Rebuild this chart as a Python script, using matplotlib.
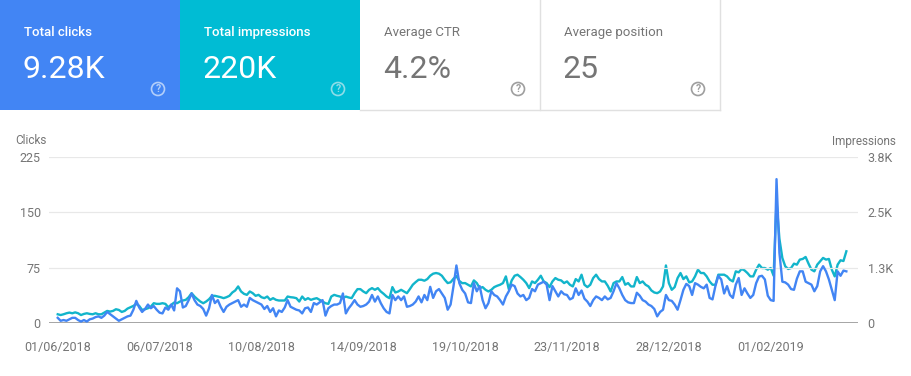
import numpy as np
import matplotlib
matplotlib.use("Agg")
import matplotlib.pyplot as plt
import matplotlib.dates as mdates
from matplotlib.patches import Rectangle, Circle
import datetime as dt

plt.rcParams['font.family'] = ['Roboto', 'DejaVu Sans']

# summary cards
card_labels = ["Total clicks", "Total impressions", "Average CTR", "Average position"]
card_values = ["9.28K", "220K", "4.2%", "25"]

# daily data, 01/06/2018 ...
start_date = dt.date(2018, 6, 1)

clicks = [
    7, 3, 4, 3, 5, 7, 7, 4, 2, 4, 2, 5, 6, 8, 9, 7, 10, 15, 12, 9,
    6, 3, 5, 7, 9, 10, 18, 30, 21, 15, 19, 25, 20, 23, 18, 14, 13, 21, 18, 25,
    17, 47, 43, 21, 23, 31, 40, 31, 25, 23, 19, 10, 20, 38,
    27, 31, 22, 15, 22, 25, 27, 29, 31, 22, 25, 22, 34, 31, 29, 27, 25, 19, 23, 15,
    20, 9, 17, 15, 21, 31, 22, 20, 18, 17, 13, 20, 21, 15, 27, 25, 28, 31, 10, 20,
    23, 25, 25, 27, 40, 13, 20, 25, 31, 25, 22, 23, 25, 29, 38,
    29, 36, 27, 20, 15, 13, 38, 31, 36, 31, 36, 22, 23, 25, 29, 36, 28, 38, 31, 49,
    34, 43, 46, 40, 34, 18, 25, 50, 78, 54, 45, 40, 28, 27, 54, 43, 50, 31, 20, 27,
    43, 38, 36, 31, 25, 36, 43, 52, 50, 40, 36, 38, 31, 34, 46,
    43, 52, 54, 56, 52, 31, 50, 43, 36, 43, 39, 38, 32, 34, 47, 38, 44, 33, 29, 23,
    31, 36, 34, 31, 36, 32, 34, 43, 54, 47, 38, 31, 28, 27, 27, 41, 37, 31, 29, 25,
    23, 19, 9, 15, 18, 38, 31, 30, 25, 18, 31, 45, 53, 50,
    38, 54, 52, 49, 47, 52, 34, 32, 50, 64, 59, 40, 50, 38, 34, 52, 61, 38, 47, 40,
    34, 38, 54, 63, 64, 59, 37, 31, 30, 195, 95, 56, 55, 52, 46, 45, 60, 70, 70, 56,
    54, 52, 43, 50, 70, 77, 70, 59, 45, 31, 70, 64, 71, 70,
]

impressions = [
    197, 180, 197, 220, 235, 220, 240, 220, 180, 205, 220, 205, 197, 220, 197, 197, 235, 273, 258, 273,
    311, 295, 250, 273, 326, 356, 386, 432, 386, 295, 311, 333, 371, 447, 432, 432, 447, 432, 356, 409,
    462, 447, 485, 508, 523, 583, 674, 598, 538, 485, 447, 485, 538, 614,
    614, 598, 583, 561, 583, 614, 689, 735, 826, 712, 659, 636, 712, 674, 614, 636, 583, 561, 598, 523,
    561, 523, 508, 508, 508, 598, 583, 576, 561, 485, 598, 523, 561, 523, 545, 561, 523, 485, 447, 432,
    598, 636, 614, 598, 561, 598, 576, 561, 674, 765, 765, 712, 674, 750, 788,
    750, 788, 712, 659, 598, 561, 811, 689, 712, 750, 712, 674, 765, 864, 924, 977, 977, 955, 992, 1068,
    1114, 1129, 1114, 1068, 977, 902, 920, 1000, 1060, 950, 900, 902, 864, 826, 962, 902, 788, 811, 750, 712,
    750, 811, 841, 864, 902, 1053, 765, 962, 1068, 1091, 1038, 977, 902, 788, 939,
    902, 977, 1068, 939, 902, 811, 939, 1015, 977, 962, 902, 939, 864, 826, 992, 939, 1091, 864, 811, 864,
    1015, 1091, 992, 939, 939, 841, 712, 902, 939, 939, 1038, 864, 902, 826, 826, 1038, 902, 939, 864, 826,
    735, 689, 674, 712, 826, 1300, 902, 750, 811, 1015, 1129, 992, 1053, 917,
    939, 1053, 1205, 1129, 1129, 1053, 939, 864, 864, 1091, 1091, 1091, 1053, 977, 939, 1167, 1144, 1220, 1189, 1129,
    1053, 1053, 1205, 1318, 1242, 1242, 1205, 1242, 1068, 2750, 1900, 1470, 1280, 1220, 1242, 1341, 1318, 1432, 1447, 1492,
    1341, 1205, 1167, 1318, 1394, 1470, 1432, 1447, 1205, 1053, 1318, 1417, 1400, 1620,
]

clicks_ticks = [0, 75, 150, 225]
impr_ticks = [0, 1250, 2500, 3750]
impr_tick_labels = ["0", "1.3K", "2.5K", "3.8K"]

dates = [start_date + dt.timedelta(days=i) for i in range(len(clicks))]
date_ticks = [start_date + dt.timedelta(days=35 * k) for k in range(8)]

BLUE = "#4285f4"
TEAL = "#00bcd4"
TEAL_LINE = "#12b5cb"
GRAY_TXT = "#757575"

W, H = 911, 376
fig = plt.figure(figsize=(W / 100, H / 100), dpi=100)

# background layer in pixel coordinates
bg = fig.add_axes([0, 0, 1, 1])
bg.set_xlim(0, W)
bg.set_ylim(H, 0)
bg.axis("off")

# cards
card_x = [0, 180, 360, 540]
card_w = 180
card_h = 110
bg.add_patch(Rectangle((0, 0), card_w, card_h, color=BLUE, lw=0))
bg.add_patch(Rectangle((180, 0), card_w, card_h, color=TEAL, lw=0))
# borders of the white cards (no top edge)
bg.plot([360, 719.5], [109.5, 109.5], color="#e0e0e0", lw=1)
bg.plot([540, 540], [0, 109.5], color="#e0e0e0", lw=1)
bg.plot([719.5, 719.5], [0, 109.5], color="#e0e0e0", lw=1)

for i in range(4):
    x0 = card_x[i]
    if i < 2:
        lab_col, val_col, weight = "white", "white", "medium"
        icon_col = "#b3cffa" if i == 0 else "#8fdde8"
    else:
        lab_col, val_col, icon_col, weight = GRAY_TXT, "#757575", "#9e9e9e", "normal"
    bg.text(x0 + 24, 36, card_labels[i], color=lab_col, fontsize=9.5,
            fontweight=weight, va="baseline", ha="left")
    bg.text(x0 + 23, 78, card_values[i], color=val_col, fontsize=23,
            va="baseline", ha="left")
    cx = x0 + 158
    bg.add_patch(Circle((cx, 89), 6.5, facecolor="none", edgecolor=icon_col, lw=1.2))
    bg.text(cx, 89.5, "?", color=icon_col, fontsize=7.5, ha="center", va="center",
            fontweight="bold")

# axis titles
bg.text(15, 141, "Clicks", color=GRAY_TXT, fontsize=8.5, va="center", ha="left")
bg.text(896, 141, "Impressions", color=GRAY_TXT, fontsize=8.5, va="center", ha="right")

# main chart
left, right, top, bottom = 49, 858, 157, 323
ax = fig.add_axes([left / W, 1 - bottom / H, (right - left) / W, (bottom - top) / H])
ax.patch.set_alpha(0)
ax2 = ax.twinx()

ax2.plot(dates, impressions, color=TEAL_LINE, lw=1.7, zorder=2)
ax.plot(dates, clicks, color=BLUE, lw=1.7, zorder=3)
ax.set_zorder(ax2.get_zorder() + 1)

ax.set_ylim(0, 225)
ax2.set_ylim(0, 3750)
ax.set_yticks(clicks_ticks)
ax2.set_yticks(impr_ticks)
ax2.set_yticklabels(impr_tick_labels)

ax.set_xlim(start_date - dt.timedelta(days=3.8), start_date + dt.timedelta(days=275.2))
ax.set_xticks(date_ticks)
ax.xaxis.set_major_formatter(mdates.DateFormatter("%d/%m/%Y"))

for v in clicks_ticks[1:]:
    ax.axhline(v, color="#e8e8e8", lw=0.9, zorder=0)
ax.axhline(0, color="#9e9e9e", lw=1.3, zorder=1)

for a in (ax, ax2):
    for s in a.spines.values():
        s.set_visible(False)
    a.tick_params(length=0, colors=GRAY_TXT, labelsize=9)
ax.tick_params(axis="y", pad=6)
ax2.tick_params(axis="y", pad=7)
ax.tick_params(axis="x", pad=13)

fig.savefig("out.png", dpi=100)
